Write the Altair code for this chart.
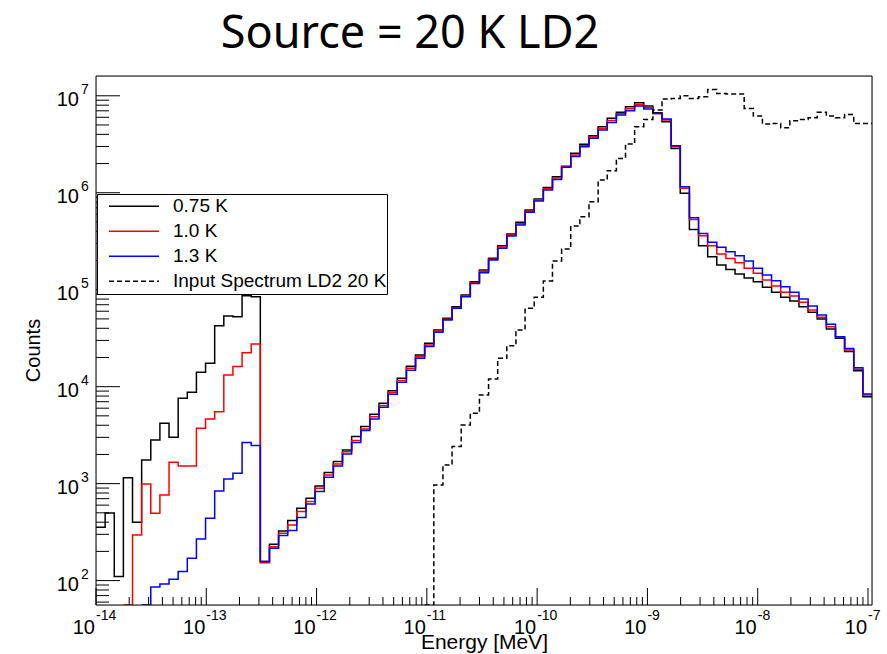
import altair as alt
import numpy as np
import pandas as pd

# ---------------- data ----------------
XMIN, XMAX = 1e-14, 1.087e-7
YMIN, YMAX = 56.0, 1.6e7
NBINS = 85

series_names = ["0.75 K", "1.0 K", "1.3 K", "Input Spectrum LD2 20 K"]
series_colors = ["#000000", "#ff0000", "#0000ff", "#000000"]
series_dash = [[1, 0], [1, 0], [1, 0], [5, 3]]

counts_075 = [354, 497, 110, 1153, 400, 1754, 2825, 4198, 3006, 7586,
              8750, 14100, 17400, 42600, 53600, 52700, 86700, 84700, 157, 237,
              325, 416, 557, 706, 946, 1300, 1687, 2223, 3055, 3873,
              5188, 6745, 9099, 12200, 16200, 21200, 28000, 38500, 50700, 66800,
              88300, 121000, 160000, 211000, 284000, 375000, 495000, 664000, 861000, 1135000,
              1460000, 1880000, 2550000, 3160000, 3870000, 4800000, 5850000, 6750000, 7710000, 8470000,
              7830000, 6680000, 5400000, 2860000, 986000, 419000, 284000, 219000, 180000, 162000,
              145000, 132000, 121000, 106000, 94000, 83400, 76600, 66800, 58500, 49900,
              39400, 31600, 23000, 14600, 7890]

counts_100 = [0, 0, 0, 0, 296, 993, 495, 764, 1660, 1524,
              1524, 3733, 4645, 5521, 13200, 16100, 22400, 27500, 153, 224,
              308, 375, 515, 653, 895, 1230, 1596, 2138, 2780, 3664,
              4909, 6383, 8690, 11600, 15500, 20400, 26900, 37500, 49500, 65300,
              86100, 118000, 155000, 206000, 275000, 366000, 480000, 643000, 841000, 1100000,
              1420000, 1850000, 2450000, 3050000, 3750000, 4610000, 5570000, 6530000, 7350000, 8150000,
              7590000, 6580000, 5620000, 2990000, 1110000, 531000, 361000, 284000, 233000, 210000,
              190000, 166000, 148000, 126000, 109000, 94000, 86100, 74100, 61800, 51900,
              41600, 32300, 23900, 15100, 8200]

counts_130 = [0, 0, 0, 0, 0, 0, 86, 92, 103, 124,
              170, 269, 440, 841, 1119, 1279, 2649, 2466, 157, 216,
              291, 328, 447, 618, 828, 1164, 1521, 2023, 2649, 3524,
              4645, 6124, 8337, 11100, 14800, 19600, 25900, 36400, 48800, 64300,
              84700, 116000, 150000, 202000, 267000, 358000, 465000, 628000, 822000, 1070000,
              1370000, 1830000, 2360000, 2990000, 3640000, 4430000, 5310000, 6320000, 7010000, 7830000,
              7290000, 6580000, 5750000, 3050000, 1150000, 553000, 381000, 308000, 274000, 247000,
              224000, 198000, 166000, 142000, 124000, 107000, 94000, 80200, 67900, 54800,
              44000, 32800, 24800, 15700, 8414]

counts_input = [0] * 37 + [970, 1560, 2410,
                           4027, 5321, 8204, 12000, 19600, 26500, 38500, 64300, 83400, 123000,
                           198000, 263000, 454000, 566000, 809000, 1350000, 1690000, 2260000, 3180000, 4800000,
                           5700000, 7130000, 9250000, 9400000, 10000000, 9400000, 9770000, 11640000, 10570000, 10420000,
                           10420000, 7410000, 6180000, 5110000, 5190000, 4680000, 5530000, 5700000, 5940000, 6750000,
                           6180000, 5940000, 6430000, 5190000, 5190000]

x_major = [1e-14, 1e-13, 1e-12, 1e-11, 1e-10, 1e-9, 1e-8, 1e-7]
x_exps = ["-14", "-13", "-12", "-11", "-10", "-9", "-8", "-7"]
y_major = [1e2, 1e3, 1e4, 1e5, 1e6, 1e7]
y_exps = ["2", "3", "4", "5", "6", "7"]

# ---------------- tables ----------------
W, H = 776, 529
edges = np.logspace(np.log10(XMIN), np.log10(XMAX), NBINS + 1)

rows = []
for s_i, (name, vals) in enumerate(zip(series_names, [counts_075, counts_100, counts_130, counts_input])):
    nz = [i for i, v in enumerate(vals) if v > 0]
    start = max(nz[0] - 1, 0)
    for k in range(start, NBINS):
        rows.append({"series": name, "E": edges[k], "counts": max(vals[k], YMIN * 0.5), "s": s_i})
    rows.append({"series": name, "E": edges[NBINS], "counts": vals[-1], "s": s_i})
df = pd.DataFrame(rows)

x_minor = [m * 10.0 ** n for n in range(-14, -7) for m in range(2, 10) if m * 10.0 ** n <= XMAX]
y_minor = [m * 10.0 ** n for n in range(1, 8) for m in range(2, 10) if YMIN <= m * 10.0 ** n <= YMAX]

df_xmaj = pd.DataFrame({"E": x_major, "exp": x_exps})
df_xmin = pd.DataFrame({"E": x_minor})
df_ymaj = pd.DataFrame({"counts": y_major, "exp": y_exps})
df_ymin = pd.DataFrame({"counts": y_minor})

xscale = alt.Scale(type="log", domain=[XMIN, XMAX])
yscale = alt.Scale(type="log", domain=[YMIN, YMAX], clamp=True)
FONT = "Liberation Sans"

xaxis = alt.Axis(title="Energy [MeV]", labels=False, ticks=False, domain=False, grid=False,
                 titleFont=FONT, titleFontSize=21, titleFontWeight="normal", titleColor="black",
                 titlePadding=43, titleBaseline="alphabetic")
yaxis = alt.Axis(title="Counts", labels=False, ticks=False, domain=False, grid=False,
                 titleFont=FONT, titleFontSize=20, titleFontWeight="normal", titleColor="black",
                 titlePadding=57, titleBaseline="alphabetic", titleY=274)

X = alt.X("E:Q", scale=xscale, axis=xaxis, title="Energy [MeV]")
Y = alt.Y("counts:Q", scale=yscale, axis=yaxis, title="Counts")

legend = alt.Legend(
    title=None, orient="none", legendX=1, legendY=118,
    symbolType="stroke", symbolSize=2500, symbolStrokeWidth=1.5,
    labelFont=FONT, labelFontSize=19, labelColor="black", labelOffset=13,
    labelLimit=500, padding=0, symbolOffset=11, clipHeight=24.4, rowPadding=0,
    strokeColor="black", fillColor="white",
)

lines = alt.Chart(df).mark_line(interpolate="step-after", strokeWidth=1.5, clip=True).encode(
    x=X, y=Y,
    color=alt.Color("series:N", scale=alt.Scale(domain=series_names, range=series_colors), legend=legend),
    strokeDash=alt.StrokeDash("series:N", scale=alt.Scale(domain=series_names, range=series_dash), legend=legend),
    detail="s:N",
)

frame = alt.Chart(pd.DataFrame({"a": [0]})).mark_rect(filled=False, stroke="black", strokeWidth=1).encode(
    x=alt.value(0), x2=alt.value(W), y=alt.value(0), y2=alt.value(H)
)

xt_major = alt.Chart(df_xmaj).mark_rule(color="black", strokeWidth=1).encode(
    x=X, y=alt.value(H), y2=alt.value(H - 17))
xt_minor = alt.Chart(df_xmin).mark_rule(color="black", strokeWidth=1).encode(
    x=X, y=alt.value(H), y2=alt.value(H - 8))
yt_major = alt.Chart(df_ymaj).mark_rule(color="black", strokeWidth=1).encode(
    y=Y, x=alt.value(0), x2=alt.value(24))
yt_minor = alt.Chart(df_ymin).mark_rule(color="black", strokeWidth=1).encode(
    y=Y, x=alt.value(0), x2=alt.value(13))

xl_base = alt.Chart(df_xmaj).mark_text(align="right", baseline="alphabetic", font=FONT, fontSize=20,
                                        color="black", dx=-1).encode(
    x=X, y=alt.value(H + 29), text=alt.value("10"))
xl_exp = alt.Chart(df_xmaj).mark_text(align="left", baseline="alphabetic", font=FONT, fontSize=14,
                                       color="black", dx=0).encode(
    x=X, y=alt.value(H + 15), text="exp:N")
yl_base = alt.Chart(df_ymaj).mark_text(align="right", baseline="alphabetic", font=FONT, fontSize=20,
                                        color="black", dy=10).encode(
    y=Y, x=alt.value(-17), text=alt.value("10"))
yl_exp = alt.Chart(df_ymaj).mark_text(align="left", baseline="alphabetic", font=FONT, fontSize=14,
                                       color="black", dy=-2).encode(
    y=Y, x=alt.value(-15), text="exp:N")

chart = alt.layer(
    lines, frame, xt_major, xt_minor, yt_major, yt_minor, xl_base, xl_exp, yl_base, yl_exp
).properties(
    width=W, height=H,
    autosize=alt.AutoSizeParams(type="none"),
    padding={"left": 96, "top": 76, "right": 15, "bottom": 49},
    title=alt.TitleParams("Source = 20 K LD2", font="Noto Sans", fontSize=45, fontWeight="normal",
                          color="black", anchor="middle", frame="group", dx=-74, offset=28, dy=45,
                          baseline="alphabetic"),
).configure_view(stroke=None).configure(background="white")

chart.save("out.html", embed_options={"renderer": "svg", "actions": False})
